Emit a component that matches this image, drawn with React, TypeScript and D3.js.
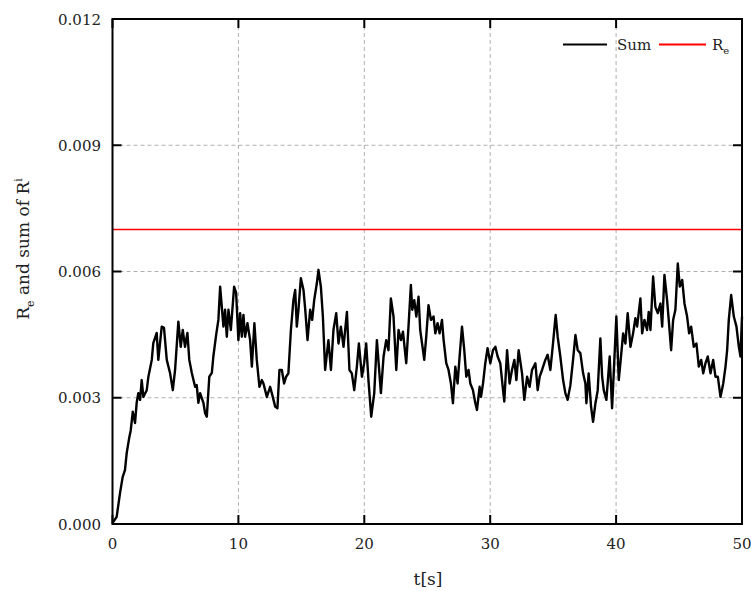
import React from "react";
import * as d3 from "d3";

const tValues = [0, 0.33, 0.6, 0.81, 0.99, 1.13, 1.34, 1.45, 1.61, 1.79, 1.92, 2.05, 2.19, 2.32, 2.45, 2.72, 2.85, 3.12, 3.24, 3.51, 3.64, 3.91, 4.09, 4.31, 4.57, 4.79, 4.97, 5.23, 5.42, 5.58, 5.76, 5.95, 6.1, 6.3, 6.56, 6.69, 6.82, 6.96, 7.22, 7.35, 7.49, 7.69, 7.89, 8.01, 8.23, 8.41, 8.55, 8.81, 8.94, 9.08, 9.21, 9.4, 9.66, 9.82, 10.0, 10.14, 10.27, 10.4, 10.53, 10.72, 10.93, 11.07, 11.27, 11.46, 11.67, 11.86, 11.99, 12.26, 12.52, 12.73, 12.92, 13.1, 13.26, 13.45, 13.63, 13.79, 13.97, 14.17, 14.37, 14.51, 14.64, 14.77, 14.96, 15.17, 15.3, 15.49, 15.7, 15.86, 16.02, 16.23, 16.36, 16.55, 16.71, 16.89, 17.15, 17.35, 17.55, 17.77, 17.95, 18.14, 18.35, 18.62, 18.82, 19.01, 19.2, 19.41, 19.57, 19.81, 19.99, 20.15, 20.33, 20.55, 20.79, 21.0, 21.16, 21.32, 21.53, 21.74, 21.92, 22.11, 22.32, 22.54, 22.72, 22.91, 23.07, 23.33, 23.51, 23.7, 23.81, 23.97, 24.13, 24.31, 24.44, 24.66, 24.76, 24.92, 25.1, 25.29, 25.5, 25.64, 25.82, 25.98, 26.17, 26.3, 26.51, 26.69, 26.88, 27.04, 27.23, 27.41, 27.57, 27.76, 27.94, 28.1, 28.28, 28.42, 28.63, 28.82, 28.95, 29.16, 29.27, 29.43, 29.61, 29.79, 30.01, 30.22, 30.41, 30.59, 30.8, 31.02, 31.12, 31.34, 31.54, 31.73, 31.92, 32.08, 32.26, 32.53, 32.71, 32.93, 33.13, 33.32, 33.59, 33.77, 33.93, 34.12, 34.38, 34.56, 34.78, 34.99, 35.2, 35.36, 35.57, 35.79, 35.97, 36.15, 36.37, 36.58, 36.77, 36.95, 37.16, 37.38, 37.56, 37.64, 37.82, 38.01, 38.17, 38.36, 38.54, 38.75, 38.89, 39.02, 39.23, 39.49, 39.68, 39.86, 40.02, 40.21, 40.34, 40.56, 40.74, 40.92, 41.14, 41.35, 41.53, 41.67, 41.93, 42.07, 42.25, 42.46, 42.59, 42.73, 42.94, 43.12, 43.31, 43.52, 43.66, 43.84, 44.05, 44.18, 44.37, 44.53, 44.71, 44.9, 45.06, 45.25, 45.43, 45.64, 45.8, 45.96, 46.17, 46.38, 46.57, 46.76, 46.92, 47.1, 47.28, 47.5, 47.71, 47.89, 48.08, 48.29, 48.51, 48.69, 48.82, 48.95, 49.14, 49.35, 49.56, 49.75, 49.88, 50.0];

const sumValues = [0.00002, 0.00017, 0.00074, 0.00112, 0.00128, 0.00169, 0.00207, 0.00223, 0.00267, 0.0024, 0.00288, 0.00311, 0.00295, 0.00342, 0.00302, 0.00318, 0.0035, 0.0039, 0.0043, 0.00454, 0.0039, 0.00469, 0.00466, 0.0039, 0.00359, 0.00318, 0.00366, 0.00481, 0.00421, 0.00461, 0.00421, 0.00454, 0.0039, 0.00359, 0.00326, 0.0033, 0.00288, 0.00311, 0.00288, 0.00264, 0.00255, 0.0035, 0.00359, 0.00398, 0.00449, 0.00485, 0.00564, 0.00469, 0.00509, 0.00445, 0.00509, 0.00461, 0.00564, 0.00549, 0.00437, 0.00501, 0.00445, 0.00497, 0.00445, 0.00477, 0.00437, 0.00374, 0.00477, 0.0039, 0.00326, 0.00342, 0.00334, 0.00302, 0.00326, 0.00302, 0.00279, 0.00275, 0.00366, 0.00366, 0.00334, 0.0035, 0.00358, 0.00461, 0.00532, 0.00556, 0.00469, 0.00509, 0.00584, 0.00556, 0.00513, 0.00437, 0.00509, 0.00485, 0.00532, 0.00572, 0.00604, 0.00564, 0.00493, 0.00366, 0.00437, 0.00366, 0.00461, 0.00501, 0.00429, 0.00469, 0.00421, 0.00504, 0.00366, 0.00358, 0.00318, 0.00374, 0.00429, 0.0035, 0.00382, 0.00429, 0.00342, 0.00255, 0.00311, 0.00437, 0.00374, 0.00311, 0.00398, 0.00437, 0.00413, 0.00536, 0.00493, 0.00366, 0.00461, 0.00437, 0.00457, 0.00382, 0.00469, 0.00568, 0.00509, 0.00532, 0.00493, 0.0054, 0.00461, 0.00413, 0.0039, 0.00445, 0.0052, 0.00485, 0.00493, 0.00453, 0.00477, 0.00453, 0.00485, 0.00437, 0.00382, 0.00366, 0.00334, 0.00287, 0.00374, 0.00334, 0.00398, 0.00469, 0.00413, 0.0035, 0.00366, 0.00334, 0.00318, 0.00287, 0.00271, 0.00326, 0.00302, 0.00334, 0.00382, 0.00418, 0.00382, 0.00413, 0.00421, 0.00398, 0.00382, 0.00318, 0.00291, 0.00413, 0.00334, 0.00366, 0.0039, 0.00342, 0.00413, 0.00358, 0.00295, 0.0035, 0.00326, 0.00366, 0.00382, 0.00318, 0.0035, 0.00366, 0.0039, 0.00402, 0.00366, 0.00429, 0.00497, 0.00445, 0.00398, 0.00342, 0.00311, 0.00295, 0.0033, 0.0039, 0.00449, 0.00413, 0.00406, 0.00358, 0.00334, 0.00287, 0.00358, 0.00279, 0.00243, 0.00287, 0.00318, 0.00441, 0.0035, 0.00318, 0.00295, 0.00398, 0.00275, 0.0039, 0.00493, 0.00342, 0.00382, 0.00453, 0.00429, 0.00501, 0.00421, 0.00453, 0.00489, 0.00469, 0.00536, 0.00453, 0.00485, 0.00461, 0.00504, 0.00461, 0.00588, 0.00516, 0.00501, 0.00524, 0.00469, 0.00592, 0.00532, 0.00485, 0.00413, 0.00485, 0.00509, 0.00619, 0.00564, 0.0058, 0.00524, 0.00493, 0.00453, 0.00469, 0.00421, 0.00429, 0.00374, 0.0039, 0.00358, 0.00382, 0.00398, 0.00358, 0.0039, 0.0035, 0.0035, 0.00302, 0.00334, 0.00374, 0.00413, 0.00485, 0.00544, 0.00493, 0.00469, 0.00421, 0.00398, 0.00493];

const reValue = 0.007;
const xTicks = [0, 10, 20, 30, 40, 50];
const yTicks = [0, 0.003, 0.006, 0.009, 0.012];
const xGrid = [10, 20, 30, 40];
const yGrid = [0.003, 0.006, 0.009];

const W = 751;
const H = 591;
const L = 112.5;
const R = 742;
const T = 19;
const B = 524;
const FONT = "'DejaVu Serif', 'Liberation Serif', serif";
const txt = { fontFamily: FONT };

export default function App() {
  const x = d3.scaleLinear().domain([0, 50]).range([L, R]);
  const y = d3.scaleLinear().domain([0, 0.012]).range([B, T]);
  const pts = tValues.map((t, i) => [t, sumValues[i]] as [number, number]);
  const line = d3
    .line<[number, number]>()
    .x((d) => x(d[0]))
    .y((d) => y(d[1]));
  const tickLen = 9;

  return (
    <svg
      width={W}
      height={H}
      style={{ position: "absolute", left: 0, top: 0, background: "#fff" }}
    >
      <rect x={0} y={0} width={W} height={H} fill="#fff" />
      {xGrid.map((v) => (
        <line
          key={"gx" + v}
          x1={x(v)}
          x2={x(v)}
          y1={T}
          y2={B}
          stroke="#b0b0b0"
          strokeWidth={1}
          strokeDasharray="4,3"
        />
      ))}
      {yGrid.map((v) => (
        <line
          key={"gy" + v}
          x1={L}
          x2={R}
          y1={y(v)}
          y2={y(v)}
          stroke="#b0b0b0"
          strokeWidth={1}
          strokeDasharray="4,3"
        />
      ))}
      <line
        x1={L}
        x2={R}
        y1={y(reValue)}
        y2={y(reValue)}
        stroke="#ff0000"
        strokeWidth={1.5}
      />
      <path
        d={line(pts) || ""}
        fill="none"
        stroke="#000"
        strokeWidth={2.4}
        strokeLinejoin="round"
      />
      <rect
        x={L}
        y={T}
        width={R - L}
        height={B - T}
        fill="none"
        stroke="#000"
        strokeWidth={2}
      />
      {xTicks.map((v) => (
        <g key={"xt" + v}>
          <line x1={x(v)} x2={x(v)} y1={B} y2={B - tickLen} stroke="#000" strokeWidth={2} />
          <line x1={x(v)} x2={x(v)} y1={T} y2={T + tickLen} stroke="#000" strokeWidth={2} />
          <text x={x(v)} y={549} textAnchor="middle" fontSize={15} fill="#222" style={txt}>
            {v}
          </text>
        </g>
      ))}
      {yTicks.map((v) => (
        <g key={"yt" + v}>
          <line x1={L} x2={L + tickLen} y1={y(v)} y2={y(v)} stroke="#000" strokeWidth={2} />
          <line x1={R} x2={R - tickLen} y1={y(v)} y2={y(v)} stroke="#000" strokeWidth={2} />
          <text x={101} y={y(v) + 5.5} textAnchor="end" fontSize={15} fill="#222" style={txt}>
            {v.toFixed(3)}
          </text>
        </g>
      ))}
      <text x={428} y={585} textAnchor="middle" fontSize={17} fill="#222" style={txt}>
        t[s]
      </text>
      <text
        transform="translate(29,249) rotate(-90)"
        textAnchor="middle"
        fontSize={17}
        fill="#222"
        style={txt}
      >
        R
        <tspan fontSize={11} dy={5}>e</tspan>
        <tspan dy={-5}> and sum of R</tspan>
        <tspan fontSize={11} dy={-7}>i</tspan>
      </text>
      <line x1={563} x2={607} y1={44.5} y2={44.5} stroke="#000" strokeWidth={2} />
      <text x={617} y={50} fontSize={15} fill="#222" style={txt}>
        Sum
      </text>
      <line x1={659} x2={706} y1={44.5} y2={44.5} stroke="#ff0000" strokeWidth={2} />
      <text x={712} y={50} fontSize={15} fill="#222" style={txt}>
        R<tspan fontSize={10} dy={4}>e</tspan>
      </text>
    </svg>
  );
}
